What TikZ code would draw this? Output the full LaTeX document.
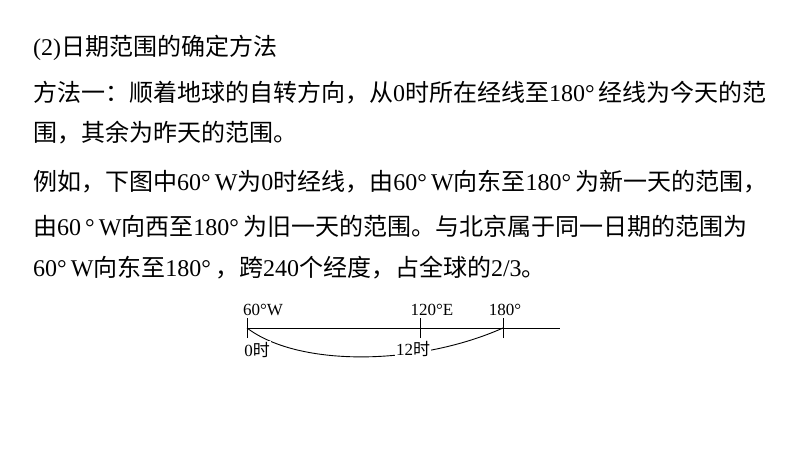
\documentclass[tikz,border=0pt]{standalone}
\usepackage{fontspec}
\setmainfont{Liberation Serif}
\newfontfamily\cjk{Noto Sans CJK SC}
\newcommand\zh[1]{{\cjk #1}}
\begin{document}
\begin{tikzpicture}[x=1pt,y=-1pt,
  txt/.style={anchor=west,inner sep=0pt,font=\fontsize{24}{24}\selectfont},
  lab/.style={inner sep=1pt,font=\fontsize{17}{17}\selectfont},
  ln/.style={line width=0.9pt}]
\useasboundingbox[fill=white] (0,0) rectangle (800,450);
\node[txt] (l1) at (33,48) {(2)\zh{日期范围的确定方法}};
\node[txt] (l2) at (33,93) {\zh{方法一：顺着地球的自转方向，从}0\zh{时所在经线至}180°\,\zh{经线为今天的范}};
\node[txt] (l3) at (33,133) {\zh{围，其余为昨天的范围。}};
\node[txt] (l4) at (33,182) {\zh{例如，下图中}60°\,W\zh{为}0\zh{时经线，由}60°\,W\zh{向东至}180°\,\zh{为新一天的范围，}};
\node[txt] (l5) at (33,226) {\zh{由}60\,°\,W\zh{向西至}180°\,\zh{为旧一天的范围。与北京属于同一日期的范围为}};
\node[txt] (l6) at (33,268) {60°\,W\zh{向东至}180°\,\zh{，跨}240\zh{个经度，占全球的}2/3\zh{。}};
\coordinate (a) at (247,328);
\coordinate (b) at (420,328);
\coordinate (c) at (503,328);
\coordinate (e) at (560,328);
\draw[ln] (a) -- (e);
\foreach \p in {a,b,c} \draw[ln] ([yshift=-10]\p) -- ([yshift=10]\p);
\draw[ln] (a) .. controls (300,368) and (420,365) .. (c);
\node[lab] (t1) at (263,310) {60°W};
\node[lab] (t2) at (432,310) {120°E};
\node[lab] (t3) at (505,310) {180°};
\node[lab,fill=white] (t4) at (257,350) {0\zh{时}};
\node[lab,fill=white] (t5) at (413,349) {12\zh{时}};
\end{tikzpicture}
\end{document}
